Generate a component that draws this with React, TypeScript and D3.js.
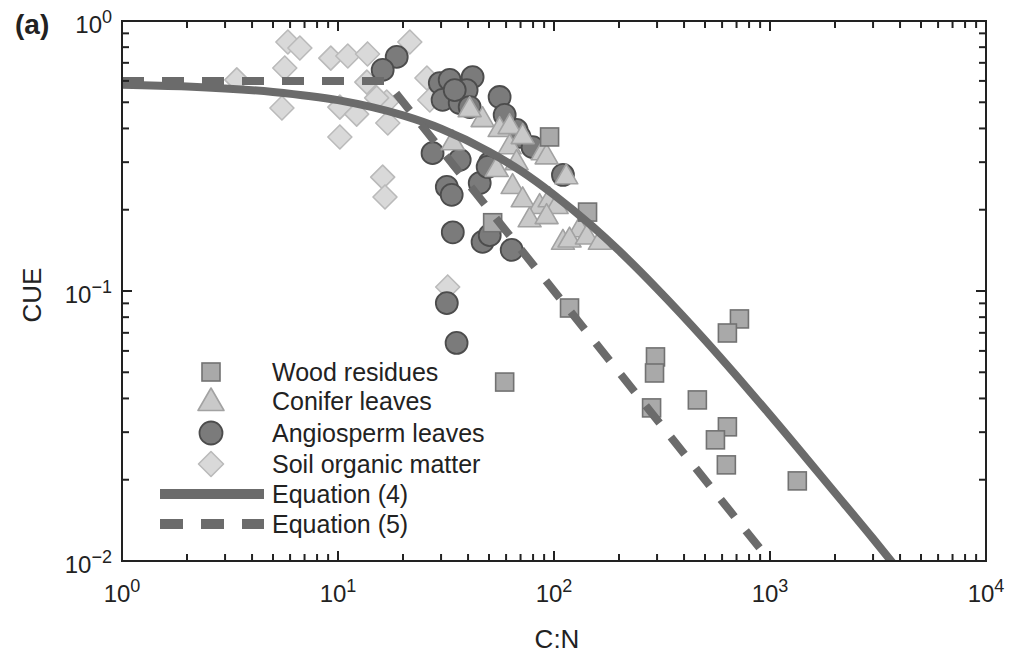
import React from 'react';
import * as d3 from 'd3';

// ---------- data ----------
const woodCN = [95.4, 143, 118, 52, 59.1, 295, 292, 283, 461, 722, 635, 635, 559, 628, 1338];
const woodCUE = [0.372, 0.196, 0.0865, 0.179, 0.046, 0.057, 0.0497, 0.0369, 0.0395, 0.0788, 0.0699, 0.0314, 0.0281, 0.0227, 0.0198];

const coniferCN = [34.0, 46.7, 56.0, 62.3, 62.3, 71.6, 88.6, 92.4, 114, 64.3, 71.6, 85.8, 95.4, 102.8, 77.1, 92.4, 131, 110, 118, 142, 163, 40.7, 54.3, 67.1];
const coniferCUE = [0.353, 0.43, 0.395, 0.405, 0.341, 0.372, 0.324, 0.313, 0.264, 0.243, 0.217, 0.205, 0.217, 0.205, 0.183, 0.188, 0.168, 0.151, 0.154, 0.158, 0.151, 0.468, 0.281, 0.298];

const angioCN = [18.7, 16.1, 29.6, 32.9, 42.0, 30.5, 36.6, 39.4, 40.7, 56.0, 69.3, 79.6, 50.4, 27.4, 36.6, 31.9, 33.6, 45.3, 49.3, 34.0, 46.7, 50.4, 63.7, 31.9, 35.4, 110, 67.1, 59.1, 34.7];
const angioCUE = [0.736, 0.659, 0.589, 0.605, 0.62, 0.51, 0.497, 0.555, 0.48, 0.523, 0.372, 0.341, 0.298, 0.324, 0.306, 0.243, 0.227, 0.251, 0.288, 0.165, 0.152, 0.161, 0.142, 0.0902, 0.0642, 0.269, 0.395, 0.449, 0.555];

const soilCN = [5.86, 6.66, 5.67, 5.5, 3.4, 9.26, 11.1, 13.7, 21.5, 13.6, 10.2, 12.2, 16.8, 17.0, 10.2, 16.1, 16.5, 25.8, 26.6, 32.2, 15.1];
const soilCUE = [0.836, 0.794, 0.67, 0.476, 0.605, 0.729, 0.742, 0.755, 0.836, 0.594, 0.48, 0.452, 0.501, 0.419, 0.372, 0.264, 0.223, 0.615, 0.51, 0.1035, 0.519];

const eq4CN = [1, 2, 5, 10, 20, 30, 50, 70, 100, 150, 200, 300, 500, 700, 1000, 2000, 3000, 4000];
const eq4CUE = [0.581, 0.572, 0.546, 0.509, 0.447, 0.399, 0.328, 0.279, 0.227, 0.174, 0.141, 0.102, 0.0658, 0.0485, 0.0348, 0.0179, 0.0121, 0.0091];

const eq5CN = [1, 16.7, 1000];
const eq5CUE = [0.6, 0.6, 0.01];

const xTickExps = [0, 1, 2, 3, 4];
const yTickExps = [0, -1, -2];

const legendLabels = ['Wood residues', 'Conifer leaves', 'Angiosperm leaves', 'Soil organic matter', 'Equation (4)', 'Equation (5)'];

// ---------- layout ----------
const W = 1025, H = 653;
const L = 122, R = 986, T = 21, B = 561;
const FONT = '"Liberation Sans", Arial, Helvetica, sans-serif';
const TXT = '#222';
const LINE = '#6b6b6b';

const x = d3.scaleLog().domain([1, 1e4]).range([L, R]);
const y = d3.scaleLog().domain([0.01, 1]).range([B, T]);

const zip = (a: number[], b: number[]) => a.map((v, i) => [v, b[i]] as [number, number]);

const SQ = { fill: '#a9a9a9', stroke: '#727272' };
const TR = { fill: '#c9c9c9', stroke: '#a2a2a2' };
const CI = { fill: '#7b7b7b', stroke: '#4c4c4c' };
const DI = { fill: '#d9d9d9', stroke: '#bababa' };

function Square({ cx, cy, s = 18 }: any) {
  return <rect x={cx - s / 2} y={cy - s / 2} width={s} height={s} fill={SQ.fill} stroke={SQ.stroke} strokeWidth={1.6} />;
}
function Tri({ cx, cy, s = 23 }: any) {
  const h = s * 0.866;
  const p = `M${cx},${cy - (2 * h) / 3}L${cx + s / 2},${cy + h / 3}L${cx - s / 2},${cy + h / 3}Z`;
  return <path d={p} fill={TR.fill} stroke={TR.stroke} strokeWidth={1.6} strokeLinejoin="round" />;
}
function Circ({ cx, cy, r = 11 }: any) {
  return <circle cx={cx} cy={cy} r={r} fill={CI.fill} stroke={CI.stroke} strokeWidth={1.8} />;
}
function Diam({ cx, cy, r = 12 }: any) {
  const p = `M${cx},${cy - r}L${cx + r},${cy}L${cx},${cy + r}L${cx - r},${cy}Z`;
  return <path d={p} fill={DI.fill} stroke={DI.stroke} strokeWidth={1.6} strokeLinejoin="round" />;
}

export default function App() {
  const xt = x.ticks();
  const yt = y.ticks();
  const isMajor = (t: number) => Math.abs(Math.log10(t) - Math.round(Math.log10(t))) < 1e-9;

  const line = d3
    .line<[number, number]>()
    .x((d) => x(d[0]))
    .y((d) => y(d[1]))
    .curve(d3.curveMonotoneX);
  const lineStraight = d3
    .line<[number, number]>()
    .x((d) => x(d[0]))
    .y((d) => y(d[1]));

  const lx = 211;
  const rows = [372, 401, 433, 464, 494, 524];

  return (
    <svg width={W} height={H} style={{ position: 'absolute', left: 0, top: 0, background: '#fff' }} fontFamily={FONT}>
      <defs>
        <clipPath id="plot">
          <rect x={L} y={T} width={R - L} height={B - T} />
        </clipPath>
      </defs>
      <rect x={0} y={0} width={W} height={H} fill="#fff" />

      {/* markers */}
      <g>
        {zip(soilCN, soilCUE).map((d, i) => <Diam key={'d' + i} cx={x(d[0])} cy={y(d[1])} />)}
        {zip(angioCN, angioCUE).map((d, i) => <Circ key={'c' + i} cx={x(d[0])} cy={y(d[1])} />)}
        {zip(coniferCN, coniferCUE).map((d, i) => <Tri key={'t' + i} cx={x(d[0])} cy={y(d[1])} />)}
        {zip(woodCN, woodCUE).map((d, i) => <Square key={'s' + i} cx={x(d[0])} cy={y(d[1])} />)}
      </g>

      {/* model lines */}
      <g clipPath="url(#plot)">
        <path d={line(zip(eq4CN, eq4CUE)) || ''} fill="none" stroke={LINE} strokeWidth={8} />
        <path d={lineStraight(zip(eq5CN, eq5CUE)) || ''} fill="none" stroke={LINE} strokeWidth={8} strokeDasharray="22 18" />
      </g>

      {/* frame */}
      <rect x={L} y={T} width={R - L} height={B - T} fill="none" stroke={TXT} strokeWidth={2} />

      {/* ticks */}
      <g stroke={TXT} strokeWidth={2}>
        {xt.map((t, i) => {
          const len = isMajor(t) ? 10 : 7;
          const px = x(t);
          return (
            <g key={'xt' + i}>
              <line x1={px} x2={px} y1={B} y2={B - len} />
              <line x1={px} x2={px} y1={T} y2={T + len} />
            </g>
          );
        })}
        {yt.map((t, i) => {
          const len = isMajor(t) ? 10 : 7;
          const py = y(t);
          return (
            <g key={'yt' + i}>
              <line x1={L} x2={L + len} y1={py} y2={py} />
              <line x1={R} x2={R - len} y1={py} y2={py} />
            </g>
          );
        })}
      </g>

      {/* tick labels */}
      <g fill={TXT} fontSize={24}>
        {xTickExps.map((e) => (
          <text key={'xl' + e} x={x(Math.pow(10, e))} y={602} textAnchor="middle">
            10<tspan fontSize={18} dy={-10}>{e}</tspan>
          </text>
        ))}
        {yTickExps.map((e) => (
          <text key={'yl' + e} x={112} y={y(Math.pow(10, e)) + 12} textAnchor="end">
            10<tspan fontSize={18} dy={-10}>{e < 0 ? '\u2212' + Math.abs(e) : e}</tspan>
          </text>
        ))}
      </g>

      {/* axis titles */}
      <text x={557} y={648} textAnchor="middle" fontSize={26} fill={TXT}>C:N</text>
      <text transform="translate(41,295) rotate(-90)" textAnchor="middle" fontSize={26} fill={TXT}>CUE</text>
      <text x={15} y={34} fontSize={28} fontWeight="bold" fill={TXT}>(a)</text>

      {/* legend */}
      <g>
        <Square cx={lx} cy={rows[0]} s={18} />
        <Tri cx={lx} cy={rows[1] + 2} s={26} />
        <Circ cx={lx} cy={rows[2]} r={11.5} />
        <Diam cx={lx} cy={rows[3]} r={12.5} />
        <line x1={160} x2={264} y1={rows[4]} y2={rows[4]} stroke={LINE} strokeWidth={10} />
        <line x1={160} x2={264} y1={rows[5]} y2={rows[5]} stroke={LINE} strokeWidth={10} strokeDasharray="23 18" />
        {legendLabels.map((lab, i) => (
          <text key={lab} x={272} y={rows[i] + 8.5} fontSize={25} fill={TXT}>{lab}</text>
        ))}
      </g>
    </svg>
  );
}
